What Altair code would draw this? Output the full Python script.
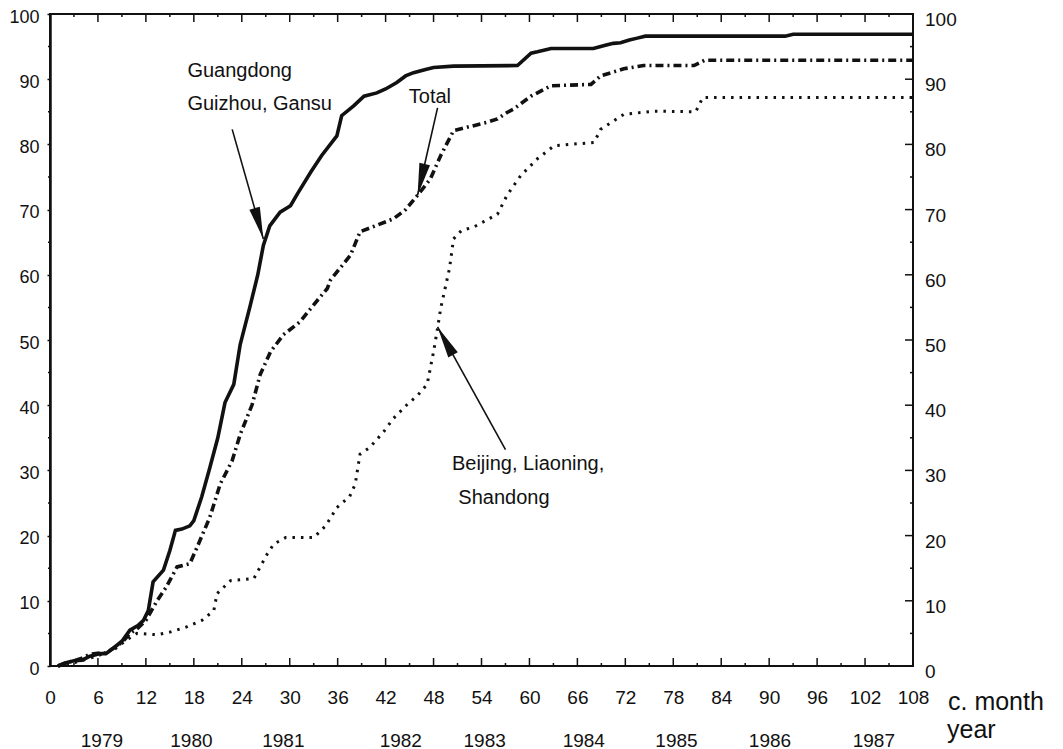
import math
import altair as alt
import pandas as pd

# ---------------- data ----------------
# Guangdong, Guizhou, Gansu (solid)
months_g = [1, 2, 3, 4, 5, 6.3, 7, 8, 9, 10, 11, 11.7, 12.3, 12.9, 14.2, 15, 15.7, 16.5, 17.5, 18,
            19, 20, 21, 21.9, 23, 23.8, 25, 26, 26.7, 27.5, 28.8, 30.1, 31, 32.6, 34, 35.9, 36.5, 38,
            39.3, 40.9, 42, 43.4, 44.5, 45.5, 47, 48, 50.5, 58.5, 60.2, 61, 62.7, 68, 69.5, 70.5,
            71.4, 72.5, 73.5, 74.5, 92, 93, 108]
vals_g = [0, 0.5, 0.8, 0.9, 1.5, 1.9, 1.9, 2.8, 3.8, 5.5, 6.2, 7, 8.5, 12.9, 14.7, 17.7, 20.8, 21,
          21.5, 22.3, 26, 30.4, 35, 40.4, 43.2, 49.3, 55, 60, 64.5, 67.5, 69.6, 70.6, 72.5, 75.7,
          78.3, 81.3, 84.4, 85.9, 87.4, 87.9, 88.5, 89.5, 90.5, 91, 91.5, 91.8, 92, 92.1, 94, 94.2,
          94.7, 94.7, 95.2, 95.5, 95.6, 96, 96.3, 96.6, 96.6, 96.9, 96.9]

# Total (dash-dot)
months_t = [1, 2, 3, 4, 5, 6.3, 7, 8, 9, 10, 11, 12, 13.4, 14.5, 15.9, 17.5, 18.4, 20, 21.3, 22.8,
            23.8, 25.3, 26.3, 27.6, 29.2, 31.3, 33, 34.7, 35.1, 37.6, 38.8, 40.9, 43, 44.5, 46,
            47.6, 48.9, 50.5, 54.7, 56, 57.2, 58, 60.2, 62.7, 67.7, 68.9, 71.8, 74.3, 80.6, 81.9, 108]
vals_t = [0, 0.5, 0.8, 1.2, 1.8, 2, 2, 2.8, 3.6, 5, 5.8, 7, 10, 12, 15.2, 15.7, 18.2, 22.8, 27.9,
          31.5, 35.5, 40.1, 44.7, 48.2, 50.8, 52.8, 55.4, 57.9, 59.2, 63, 66.6, 67.6, 68.6, 70,
          72.2, 74.7, 78.3, 82.1, 83.4, 83.9, 84.9, 85.4, 87.4, 89, 89.2, 90.5, 91.6, 92.1, 92.1,
          92.9, 92.9]

# Beijing, Liaoning, Shandong (dotted)
months_b = [1, 3, 5, 6.5, 8, 9.6, 10.9, 13.4, 15, 17.1, 19, 20.5, 20.9, 22.6, 25.5, 27.2, 28, 29.5,
            33, 34.5, 35.9, 37.5, 38.2, 38.8, 40, 41.8, 43, 44.7, 46, 47.2, 48, 48.5, 48.9, 50,
            50.5, 51.5, 53, 56, 57.2, 58.9, 61, 63.1, 68.1, 68.9, 71.8, 75.6, 80.8, 81.7, 108]
vals_b = [0, 0.5, 1.2, 1.8, 2.5, 4, 5, 4.8, 5.2, 6, 7, 8.5, 11.1, 13.1, 13.4, 17.2, 18.7, 19.7,
          19.7, 21.5, 24.3, 26, 27.9, 32.5, 33.5, 36, 38, 40.1, 41.5, 43.2, 48.2, 51.8, 54.9, 61,
          65.5, 66.8, 67.3, 69.3, 72.2, 75.2, 77.8, 79.8, 80.3, 82.3, 84.6, 85.1, 85, 87.2, 87.2]

x_ticks = list(range(0, 109, 6))
x_minor = list(range(3, 109, 6))
y_ticks = list(range(0, 101, 10))
y_minor = list(range(5, 100, 10))

years = ["1979", "1980", "1981", "1982", "1983", "1984", "1985", "1986", "1987"]
year_pos = [6.5, 17.7, 29.2, 43.9, 54.4, 66.8, 78.4, 90.1, 103.1]

ann_text = ["Guangdong", "Guizhou, Gansu", "Total", "Beijing, Liaoning,", "Shandong"]
ann_x = [17.2, 17.2, 44.9, 50.3, 51.1]
ann_y = [91.3, 86.2, 87.2, 31.0, 25.8]

arrow_x0 = [22.8, 48.5, 57.0]
arrow_y0 = [82.3, 85.6, 33.2]
arrow_x1 = [26.7, 46.0, 48.5]
arrow_y1 = [65.5, 72.2, 52.0]

x_title = ["c. month"]
year_title = ["year"]

# ---------------- layout ----------------
W, H = 863, 652
FONT = "Liberation Sans"
INK = "#111111"

xs = alt.Scale(domain=[0, 108], nice=False, zero=False)
ys = alt.Scale(domain=[0, 100], nice=False, zero=False)

x_axis = alt.Axis(values=x_ticks, ticks=False, tickSize=0, domain=False, grid=False, title=None,
                  labelPadding=22, labelFontSize=19, labelFont=FONT, labelColor=INK,
                  labelFlush=False, labelOverlap=False, format="d")
y_axis = alt.Axis(values=y_ticks, ticks=True, tickSize=3, tickColor=INK, tickWidth=1.5,
                  domain=True, domainColor=INK, domainWidth=2.5, grid=False, title=None,
                  labelPadding=8, labelFontSize=18, labelFont=FONT, labelColor=INK,
                  labelOffset=3, labelFlush=False, labelOverlap=False, format="d")


def X(field):
    return alt.X(field, scale=xs, axis=x_axis)


def Y(field):
    return alt.Y(field, scale=ys, axis=y_axis)


df_g = pd.DataFrame({"month": months_g, "value": vals_g})
df_t = pd.DataFrame({"month": months_t, "value": vals_t})
df_b = pd.DataFrame({"month": months_b, "value": vals_b})

line_g = alt.Chart(df_g).mark_line(color=INK, strokeWidth=3.6).encode(
    x=X("month:Q"), y=Y("value:Q"))
line_t = alt.Chart(df_t).mark_line(color=INK, strokeWidth=3.6, strokeDash=[8, 4, 2, 4]).encode(
    x=X("month:Q"), y=Y("value:Q"))
line_b = alt.Chart(df_b).mark_line(color=INK, strokeWidth=3, strokeDash=[2.5, 6]).encode(
    x=X("month:Q"), y=Y("value:Q"))

# inward ticks (bottom, top, right) and small outer minor ticks on the left
df_xt = pd.DataFrame({"month": x_ticks})
df_xm = pd.DataFrame({"month": x_minor})
df_yt = pd.DataFrame({"value": y_ticks})
df_ym = pd.DataFrame({"value": y_minor})


def xtick(df, y0, y1):
    return alt.Chart(df).mark_rule(color=INK, strokeWidth=1.5).encode(
        x=X("month:Q"), y=alt.value(y0), y2=alt.value(y1))


def ytick(df, x0, x1):
    return alt.Chart(df).mark_rule(color=INK, strokeWidth=1.5).encode(
        y=Y("value:Q"), x=alt.value(x0), x2=alt.value(x1))


ticks = [
    xtick(df_xt, H, H - 8), xtick(df_xm, H, H - 3),
    xtick(df_xt, 0, 8), xtick(df_xm, 0, 3),
    ytick(df_yt, W, W - 8), ytick(df_ym, W, W - 3),
    ytick(df_ym, 0, -2),
]

right_labels = alt.Chart(df_yt).mark_text(
    align="left", baseline="middle", dx=12, dy=6, fontSize=19, font=FONT, color=INK
).encode(y=Y("value:Q"), x=alt.value(W), text=alt.Text("value:Q", format="d"))

df_years = pd.DataFrame({"month": year_pos, "label": years})
year_labels = alt.Chart(df_years).mark_text(
    align="center", baseline="alphabetic", fontSize=19, font=FONT, color=INK
).encode(x=X("month:Q"), y=alt.value(H + 81), text="label:N")

xt = alt.Chart(pd.DataFrame({"t": x_title})).mark_text(
    align="left", baseline="alphabetic", fontSize=25, font=FONT, color=INK
).encode(x=alt.value(W + 35), y=alt.value(H + 44), text="t:N")
yt = alt.Chart(pd.DataFrame({"t": year_title})).mark_text(
    align="left", baseline="alphabetic", fontSize=25, font=FONT, color=INK
).encode(x=alt.value(W + 34), y=alt.value(H + 72), text="t:N")

df_ann = pd.DataFrame({"month": ann_x, "value": ann_y, "label": ann_text})
annotations = alt.Chart(df_ann).mark_text(
    align="left", baseline="middle", fontSize=20, font=FONT, color=INK
).encode(x=X("month:Q"), y=Y("value:Q"), text="label:N")

sx, sy = W / 108.0, H / 100.0
angles = []
for a, b, c, d in zip(arrow_x0, arrow_y0, arrow_x1, arrow_y1):
    dx = (c - a) * sx
    dy = -(d - b) * sy
    angles.append(math.degrees(math.atan2(dx, -dy)) % 360)
df_arr = pd.DataFrame({"month": arrow_x0, "value": arrow_y0, "x1": arrow_x1, "y1": arrow_y1,
                       "angle": angles})
shafts = alt.Chart(df_arr).mark_rule(color=INK, strokeWidth=1.6).encode(
    x=X("month:Q"), y=Y("value:Q"), x2="x1:Q", y2="y1:Q")
heads = alt.Chart(df_arr).mark_point(
    shape="M0,0 L-0.17,1 L0.17,1 Z", filled=True, size=4096, opacity=1, color=INK, strokeWidth=0
).encode(x=X("x1:Q"), y=Y("y1:Q"), angle=alt.Angle("angle:Q", scale=None))

chart = alt.layer(
    line_g, line_t, line_b, *ticks, right_labels, year_labels, xt, yt, annotations, shafts, heads
).properties(
    width=W, height=H,
    autosize=alt.AutoSizeParams(type="none"),
    padding={"left": 42, "top": 6, "right": 142, "bottom": 84},
    background="white",
).configure_view(stroke=INK, strokeWidth=2)

chart.save("out.html", embed_options={"renderer": "svg", "actions": False})
